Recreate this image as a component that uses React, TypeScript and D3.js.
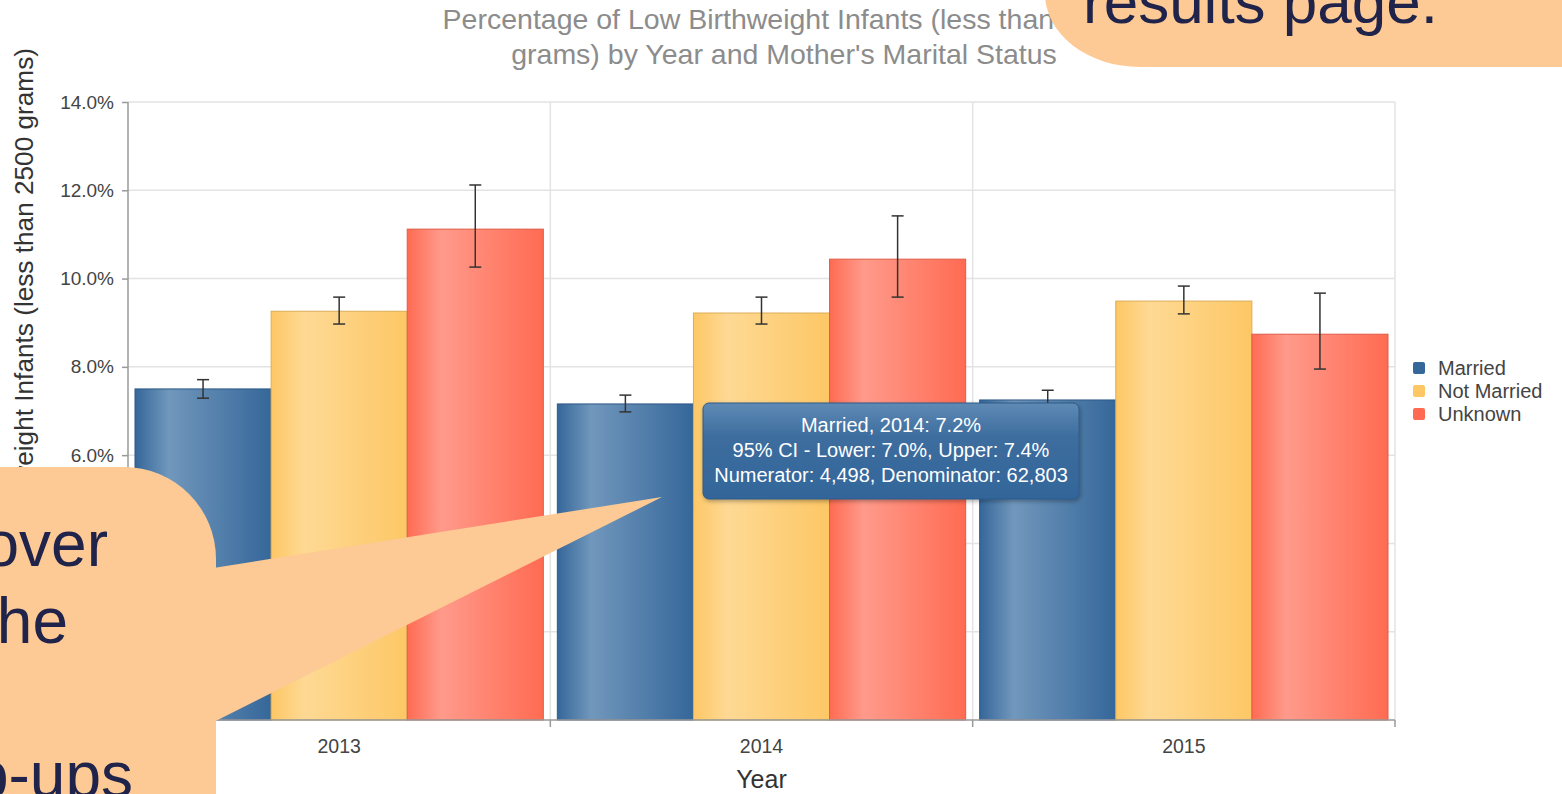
import { useRef, useEffect } from 'react'
import * as d3 from 'd3'

const years = ["2013", "2014", "2015"]
const statuses = ["Married", "Not Married", "Unknown"]

// percent values per status, in year order
const married = [7.5, 7.16, 7.25]
const notMarried = [9.26, 9.22, 9.49]
const unknown = [11.12, 10.44, 8.74]

const marriedLower = [7.29, 6.98, 7.04]
const marriedUpper = [7.71, 7.36, 7.47]
const notMarriedLower = [8.97, 8.97, 9.2]
const notMarriedUpper = [9.58, 9.58, 9.83]
const unknownLower = [10.26, 9.58, 7.95]
const unknownUpper = [12.12, 11.42, 9.67]

const yTicks = [0, 2, 4, 6, 8, 10, 12, 14]

// hovered point shown in the tooltip
const tipStatus = "Married"
const tipYear = "2014"
const tipNumerator = 4498
const tipDenominator = 62803

const colors: Record<string, [string, string]> = {
  "Married": ["#35679a", "#7197bc"],
  "Not Married": ["#fdc765", "#fed994"],
  "Unknown": ["#ff6b52", "#ff9a8b"],
}

export default function App() {
  const svgRef = useRef<SVGSVGElement>(null)
  const width = 1562
  const height = 794

  useEffect(() => {
    if (!svgRef.current) return
    const svg = d3.select(svgRef.current)
    svg.selectAll("*").remove()

    const font = "'Liberation Sans', Arial, sans-serif"
    const left = 128, right = 1395, top = 102, bottom = 720

    const values: Record<string, number[]> = {
      "Married": married, "Not Married": notMarried, "Unknown": unknown,
    }
    const lowers: Record<string, number[]> = {
      "Married": marriedLower, "Not Married": notMarriedLower, "Unknown": unknownLower,
    }
    const uppers: Record<string, number[]> = {
      "Married": marriedUpper, "Not Married": notMarriedUpper, "Unknown": unknownUpper,
    }

    const rows = years.flatMap((yr, i) => statuses.map(s => ({
      year: yr, status: s, value: values[s][i], lo: lowers[s][i], hi: uppers[s][i],
    })))

    const x0 = d3.scaleBand().domain(years).range([left, right])
    const pad = 7
    const x1 = d3.scaleBand().domain(statuses).range([pad, x0.bandwidth() - pad])
    const y = d3.scaleLinear().domain([0, 14]).range([bottom, top])

    // gradients
    const defs = svg.append("defs")
    statuses.forEach((s, i) => {
      const g = defs.append("linearGradient").attr("id", `grad${i}`)
        .attr("x1", "0%").attr("x2", "100%").attr("y1", "0%").attr("y2", "0%")
      g.append("stop").attr("offset", "0%").attr("stop-color", colors[s][0])
      g.append("stop").attr("offset", "25%").attr("stop-color", colors[s][1])
      g.append("stop").attr("offset", "100%").attr("stop-color", colors[s][0])
    })
    const tg = defs.append("linearGradient").attr("id", "tipGrad")
      .attr("x1", "0%").attr("x2", "0%").attr("y1", "0%").attr("y2", "100%")
    tg.append("stop").attr("offset", "0%").attr("stop-color", "#5f8ab5")
    tg.append("stop").attr("offset", "35%").attr("stop-color", "#3d6d9e")
    tg.append("stop").attr("offset", "100%").attr("stop-color", "#33659a")
    const shadow = defs.append("filter").attr("id", "tipShadow")
      .attr("x", "-10%").attr("y", "-10%").attr("width", "130%").attr("height", "140%")
    shadow.append("feDropShadow").attr("dx", 1).attr("dy", 2).attr("stdDeviation", 2)
      .attr("flood-color", "#000").attr("flood-opacity", 0.3)

    svg.append("rect").attr("width", width).attr("height", height).attr("fill", "#fff")

    // title
    const title = svg.append("text").attr("font-family", font).attr("font-size", 28.5)
      .attr("fill", "#8c8c8c").attr("text-anchor", "middle")
    title.append("tspan").attr("x", 784).attr("y", 29)
      .text("Percentage of Low Birthweight Infants (less than 2500")
    title.append("tspan").attr("x", 784).attr("y", 64)
      .text("grams) by Year and Mother's Marital Status")

    // grid
    svg.append("g").selectAll("line").data(yTicks.filter(d => d > 0)).enter().append("line")
      .attr("x1", left).attr("x2", right)
      .attr("y1", d => y(d)).attr("y2", d => y(d))
      .attr("stroke", "#e3e3e3").attr("stroke-width", 1.5)
    svg.append("g").selectAll("line").data(years).enter().append("line")
      .attr("x1", d => (x0(d) || 0) + x0.bandwidth()).attr("x2", d => (x0(d) || 0) + x0.bandwidth())
      .attr("y1", top).attr("y2", bottom)
      .attr("stroke", "#e3e3e3").attr("stroke-width", 1.5)

    // bars
    svg.append("g").selectAll("rect").data(rows).enter().append("rect")
      .attr("x", d => (x0(d.year) || 0) + (x1(d.status) || 0))
      .attr("y", d => y(d.value))
      .attr("width", x1.bandwidth())
      .attr("height", d => y(0) - y(d.value))
      .attr("fill", d => `url(#grad${statuses.indexOf(d.status)})`)
      .attr("stroke", d => d3.color(colors[d.status][0])!.darker(0.4).toString())
      .attr("stroke-width", 1)

    // error bars
    const eb = svg.append("g").attr("stroke", "#333").attr("stroke-width", 1.5)
    rows.forEach(d => {
      const cx = (x0(d.year) || 0) + (x1(d.status) || 0) + x1.bandwidth() / 2
      eb.append("line").attr("x1", cx).attr("x2", cx).attr("y1", y(d.hi)).attr("y2", y(d.lo))
      eb.append("line").attr("x1", cx - 6).attr("x2", cx + 6).attr("y1", y(d.hi)).attr("y2", y(d.hi))
      eb.append("line").attr("x1", cx - 6).attr("x2", cx + 6).attr("y1", y(d.lo)).attr("y2", y(d.lo))
    })

    // y axis
    const ya = svg.append("g").attr("transform", `translate(${left},0)`)
      .call(d3.axisLeft(y).tickValues(yTicks.filter(d => d > 0)).tickSize(6).tickPadding(8)
        .tickFormat(d => `${(+d).toFixed(1)}%`))
    ya.select(".domain").attr("stroke", "#9a9a9a").attr("stroke-width", 1.5)
      .attr("d", `M0,${top}V${bottom}`)
    ya.selectAll(".tick line").attr("stroke", "#9a9a9a").attr("stroke-width", 1.5)
    ya.selectAll("text").attr("font-family", font).attr("font-size", 19).attr("fill", "#444")

    // x axis
    const xa = svg.append("g").attr("transform", `translate(0,${bottom})`)
      .call(d3.axisBottom(x0).tickSize(0).tickPadding(19))
    xa.select(".domain").attr("stroke", "#9a9a9a").attr("stroke-width", 1.5)
      .attr("d", `M${left},0H${right}`)
    xa.selectAll("text").attr("font-family", font).attr("font-size", 19.5).attr("fill", "#444")
    xa.selectAll(".sep").data(years).enter().append("line")
      .attr("x1", d => (x0(d) || 0) + x0.bandwidth()).attr("x2", d => (x0(d) || 0) + x0.bandwidth())
      .attr("y1", 0).attr("y2", 7).attr("stroke", "#9a9a9a").attr("stroke-width", 1.5)

    svg.append("text").attr("x", (left + right) / 2).attr("y", 788)
      .attr("text-anchor", "middle").attr("font-family", font).attr("font-size", 25)
      .attr("fill", "#333").text("Year")

    svg.append("text").attr("transform", "rotate(-90)").attr("x", -48).attr("y", 33)
      .attr("text-anchor", "end").attr("font-family", font).attr("font-size", 26.2)
      .attr("fill", "#333").text("Percentage of Low Birthweight Infants (less than 2500 grams)")

    // legend
    const lg = svg.append("g").attr("transform", "translate(1413,368)")
    statuses.forEach((s, i) => {
      lg.append("rect").attr("x", 0).attr("y", i * 23 - 6).attr("width", 12).attr("height", 12)
        .attr("rx", 2).attr("fill", colors[s][0])
      lg.append("text").attr("x", 25).attr("y", i * 23 + 7).attr("font-family", font)
        .attr("font-size", 20).attr("fill", "#444").text(s)
    })

    // tooltip
    const ti = years.indexOf(tipYear)
    const tip = svg.append("g")
    tip.append("rect").attr("x", 703).attr("y", 403).attr("width", 376).attr("height", 96)
      .attr("rx", 6).attr("fill", "url(#tipGrad)").attr("stroke", "#2d5a88")
      .attr("filter", "url(#tipShadow)")
    const fmt = d3.format(",")
    const tipLines = [
      `${tipStatus}, ${tipYear}: ${values[tipStatus][ti].toFixed(1)}%`,
      `95% CI - Lower: ${lowers[tipStatus][ti].toFixed(1)}%, Upper: ${uppers[tipStatus][ti].toFixed(1)}%`,
      `Numerator: ${fmt(tipNumerator)}, Denominator: ${fmt(tipDenominator)}`,
    ]
    tip.selectAll("text").data(tipLines).enter().append("text")
      .attr("x", 891).attr("y", (_, i) => 432 + i * 25)
      .attr("text-anchor", "middle").attr("font-family", font).attr("font-size", 20)
      .attr("fill", "#fff").text(d => d)

    // callouts
    const peach = "#fdc994"
    const navy = "#20234a"
    svg.append("rect").attr("x", 1045).attr("y", -80).attr("width", 700).attr("height", 147)
      .attr("rx", 95).attr("fill", peach)
    svg.append("text").attr("x", 1083).attr("y", 23).attr("font-family", font)
      .attr("font-size", 62).attr("fill", navy).text("results page.")

    svg.append("rect").attr("x", -200).attr("y", 467).attr("width", 416).attr("height", 500)
      .attr("rx", 92).attr("fill", peach)
    svg.append("path").attr("d", "M150,578L662,497L150,754Z").attr("fill", peach)
    const callText = [["over", 108, 566], ["the", 68, 643], ["pop-ups", 133, 797]] as const
    callText.forEach(([t, xe, yb]) => {
      svg.append("text").attr("x", xe).attr("y", yb).attr("text-anchor", "end")
        .attr("font-family", font).attr("font-size", 64).attr("fill", navy).text(t)
    })
  }, [])

  return (
    <svg
      ref={svgRef}
      width={width}
      height={height}
      style={{ position: 'fixed', left: 0, top: 0, display: 'block' }}
    />
  )
}
